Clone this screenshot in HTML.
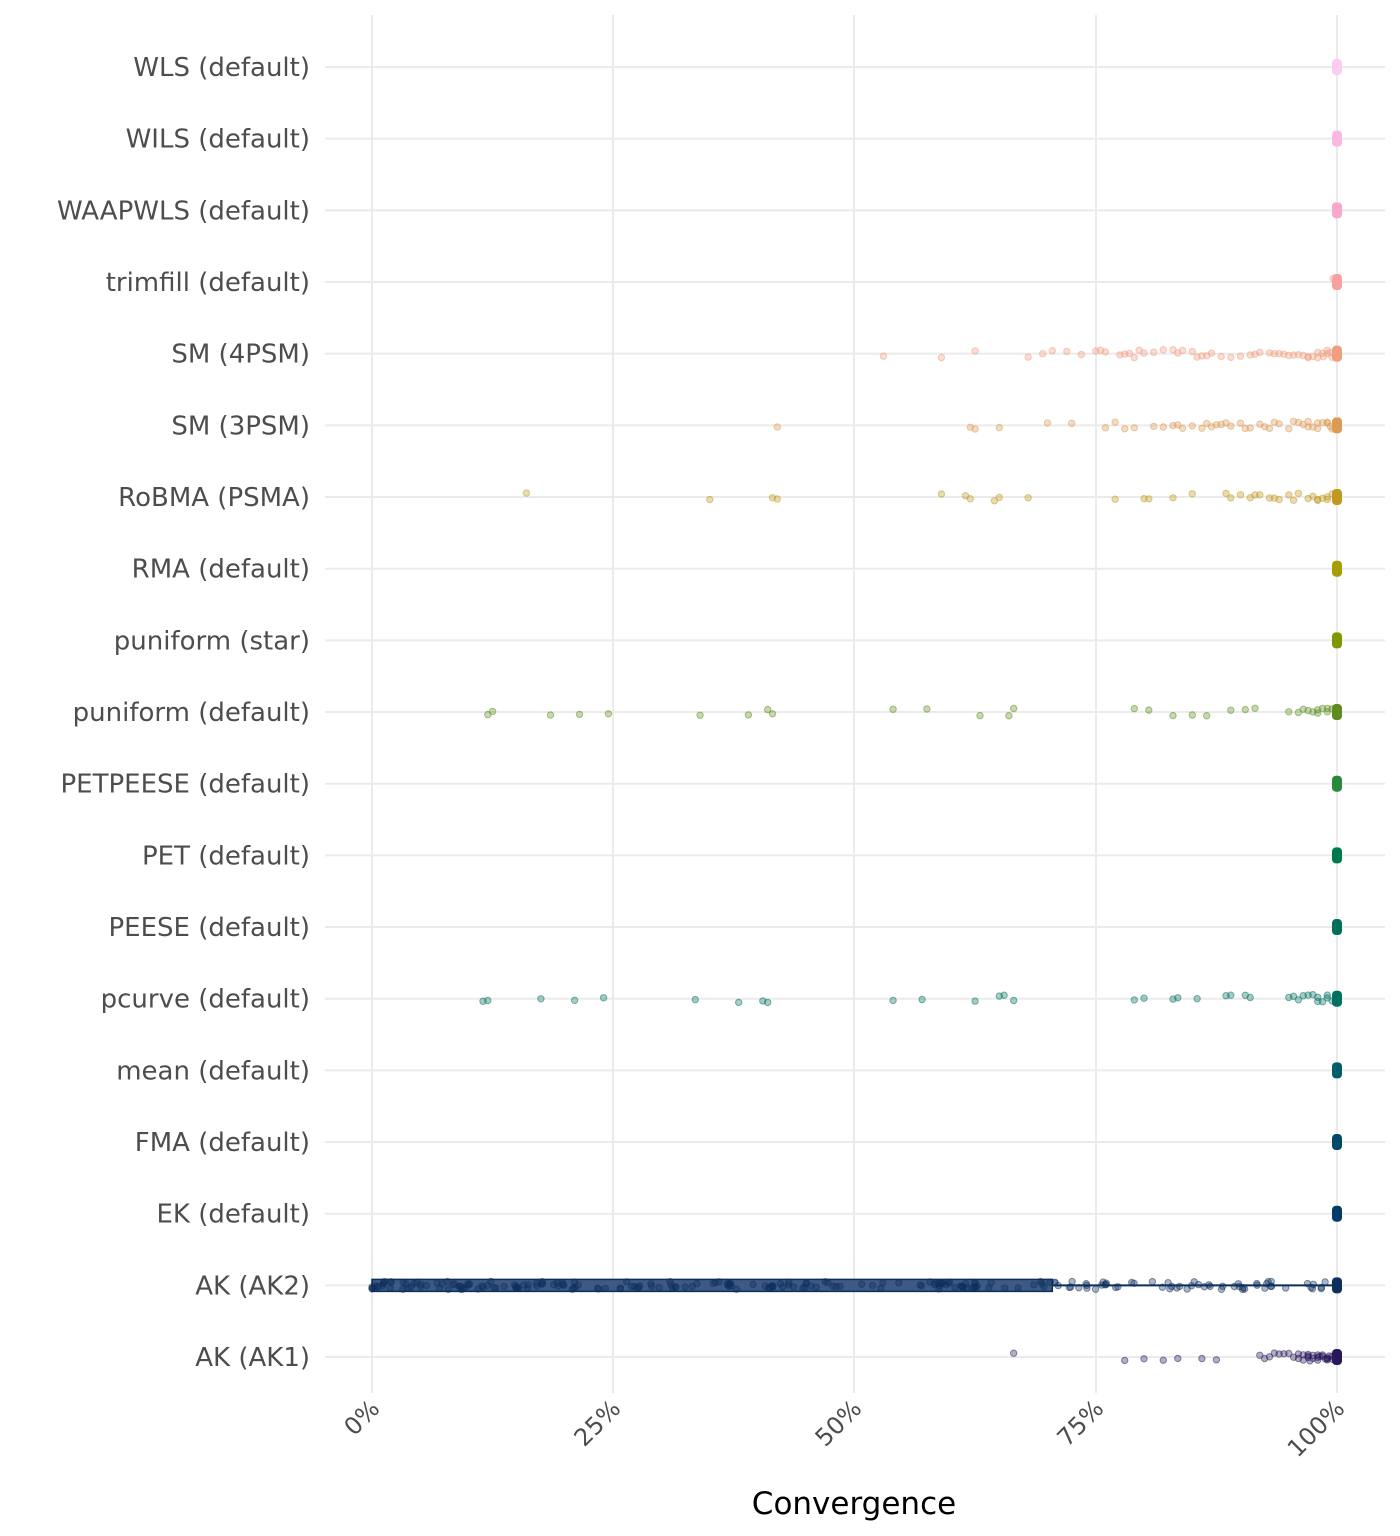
<!DOCTYPE html>
<html><head><meta charset="utf-8"><style>html,body{margin:0;padding:0;background:#fff}svg{display:block}</style></head>
<body>
<svg id="s" width="1400" height="1536" xmlns="http://www.w3.org/2000/svg" font-family="DejaVu Sans, Liberation Sans, sans-serif"></svg>
<script>
var s=document.getElementById('s');
var rows=[
["WLS (default)","#fccdf0",[]],
["WILS (default)","#fbb8e3",[]],
["WAAPWLS (default)","#f9a8cc",[]],
["trimfill (default)","#f9a0a0",[99.6,99.8]],
["SM (4PSM)","#f19e80",[53,59,62.5,68,69.5,70.5,72,73.5,75,75.5,76,77.5,78,78.5,79,79.5,80,81,82,83,83.5,84,85,85.5,86,86.5,87,88,89,90,91,91.5,92,93,93.5,94,94.5,95,95.5,96,96.5,97,97.5,98,98.5,99,99.5,97,98,99,99.3,98.6]],
["SM (3PSM)","#dd9a54",[42,62,62.5,65,70,72.5,76,77,78,79,81,82,83,83.5,84,85,86,86.5,87,87.5,88,88.5,89,90,90.5,91,92,92.5,93,93.5,94,95,95.5,96,96.5,97,97.5,98,98.5,99,99.5,97,98,99,99.3]],
["RoBMA (PSMA)","#c09a20",[16,35,41.5,42,59,61.5,62,64.5,65,68,77,80,80.5,83,85,88.5,89,90,91,91.5,92,93,93.5,94,95,95.5,96,97,97.5,98,98.5,99,99.5,98,99]],
["RMA (default)","#a89c00",[]],
["puniform (star)","#7f9800",[]],
["puniform (default)","#5e8c20",[12,12.5,18.5,21.5,24.5,34,39,41,41.5,54,57.5,63,66,66.5,79,80.5,83,85,86.5,89,90.5,91.5,95,96,96.5,97,97.5,98,98.5,99,99.5,98,99]],
["PETPEESE (default)","#268a3a",[]],
["PET (default)","#007a4c",[]],
["PEESE (default)","#007058",[]],
["pcurve (default)","#00705f",[11.5,12,17.5,21,24,33.5,38,40.5,41,54,57,62.5,65,65.5,66.5,79,80,83,83.5,85.5,88.5,89,90.5,91,95,95.5,96,96.5,97,97.5,98,98.5,99,99.5,98,99]],
["mean (default)","#005e68",[]],
["FMA (default)","#004a68",[]],
["EK (default)","#003d66",[]],
["AK (AK2)","#0e2f5c",[]],
["AK (AK1)","#28185a",[66.5,78,80,82,83.5,86,87.5,92,92.5,93,93.5,94,94.5,95,95.5,96,96.5,97,97.5,98,98.5,99,99.5,96,96.5,97,97.5,98,98.5,99,99.5,97,98,99,98.2,99.2,97.2,98.8]]
];
var seed=7;function rnd(){seed=(seed*16807)%2147483647;return seed/2147483647;}
var h='';
function X(p){return 372+p*9.65;}
function Y(i){return 67+i*71.67;}
[372,613,854,1096,1337].forEach(function(x){h+='<line x1="'+x+'" y1="15" x2="'+x+'" y2="1393" stroke="#ebebeb" stroke-width="2"/>';});
rows.forEach(function(r,i){h+='<line x1="325" y1="'+Y(i)+'" x2="1385" y2="'+Y(i)+'" stroke="#ebebeb" stroke-width="2"/>';
h+='<text x="310" y="'+(Y(i)+9)+'" text-anchor="end" font-size="26" fill="#4d4d4d">'+r[0]+'</text>';});
var y2=Y(17);
h+='<rect x="372" y="'+(y2-6)+'" width="'+(X(70.5)-372)+'" height="12" fill="#3d5a85" stroke="#0e2f5c" stroke-width="1.5"/>';
h+='<line x1="'+X(70.5)+'" y1="'+y2+'" x2="1337" y2="'+y2+'" stroke="#0e2f5c" stroke-width="2"/>';
var ak2=[];for(var k=0;k<170;k++){ak2.push(Math.pow(rnd(),1.4)*70);}for(var k=0;k<60;k++){ak2.push(70+rnd()*30);}for(k=0;k<30;k++)ak2.push(100);
rows[17][2]=ak2;
rows.forEach(function(r,i){var y=Y(i);
 r[2].forEach(function(p){var jy=(rnd()-0.5)*8;h+='<circle cx="'+X(p).toFixed(1)+'" cy="'+(y+jy).toFixed(1)+'" r="3.2" fill="'+r[1]+'" fill-opacity="0.35" stroke="'+r[1]+'" stroke-opacity="0.5" stroke-width="1"/>';});
 h+='<rect x="1332" y="'+(y-8)+'" width="10" height="16" rx="4" fill="'+r[1]+'"/>';
});
['0%','25%','50%','75%','100%'].forEach(function(t,k){var x=[372,613,854,1096,1337][k];
 h+='<text transform="translate('+(x+9)+',1410) rotate(-45)" text-anchor="end" font-size="24" fill="#4d4d4d">'+t+'</text>';});
h+='<text x="854" y="1514" text-anchor="middle" font-size="31" fill="#000">Convergence</text>';
s.innerHTML=h;
</script>
</body></html>
